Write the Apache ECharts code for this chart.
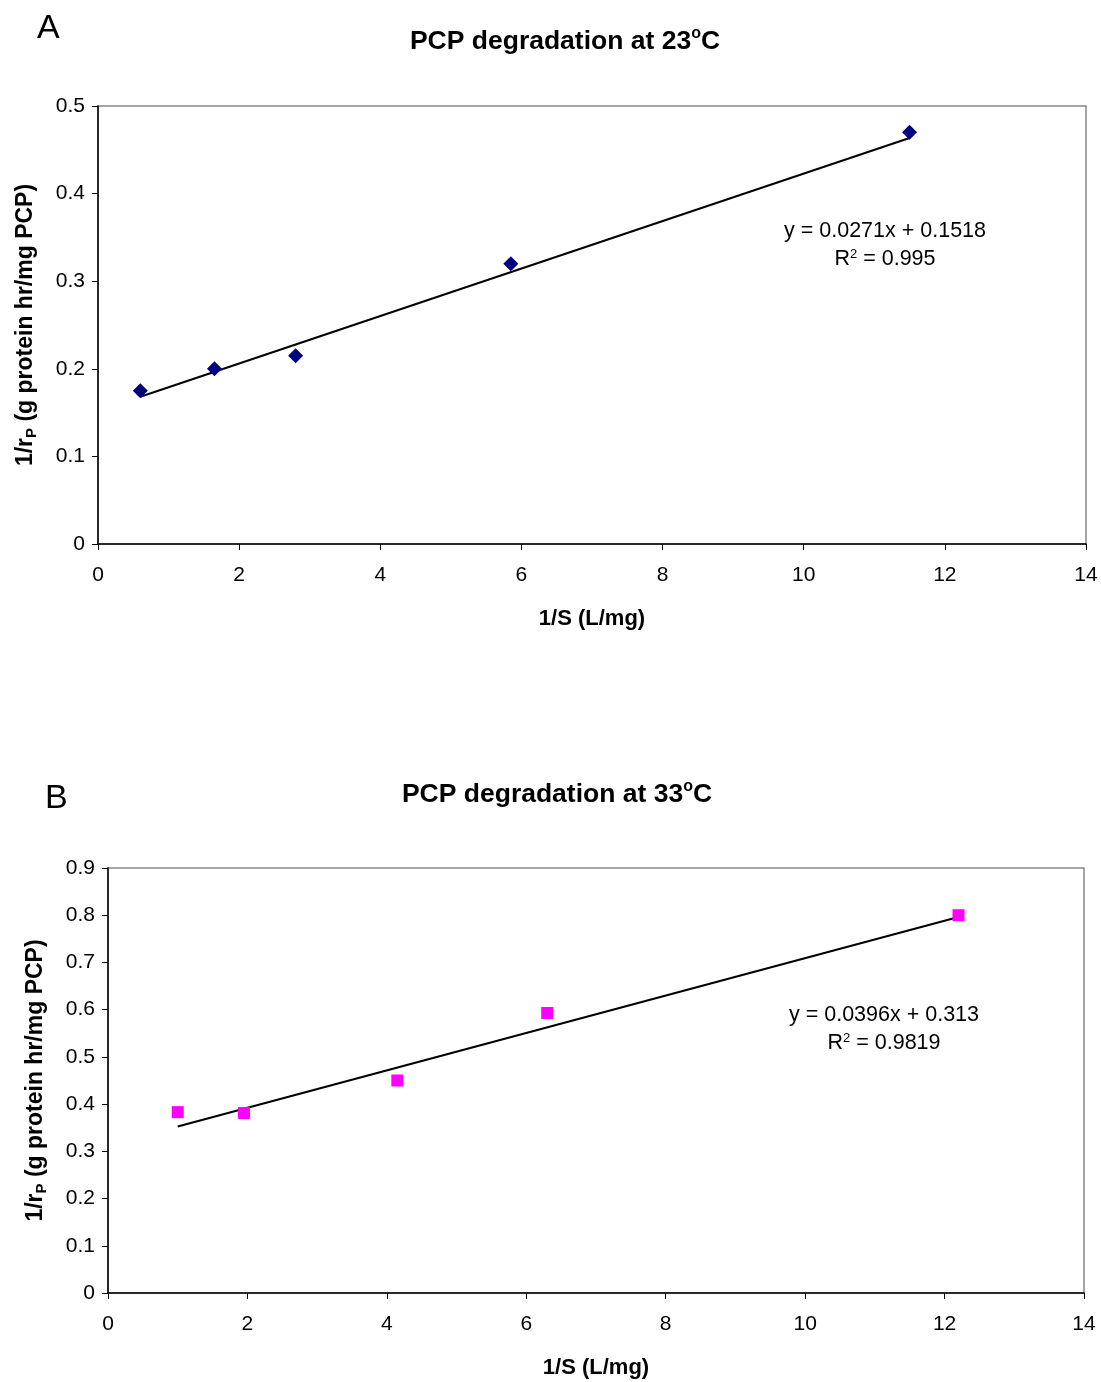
<!DOCTYPE html>
<html>
<head>
<meta charset="utf-8">
<script src="https://cdn.jsdelivr.net/npm/echarts@6/dist/echarts.min.js"></script>
<style>
  html, body { margin: 0; padding: 0; background: #fff; }
  #main { width: 1101px; height: 1382px; }
</style>
</head>
<body>
<div id="main"></div>
<script>
// panel A: 23 C
var xA = [0.6, 1.65, 2.8, 5.85, 11.5];
var yA = [0.175, 0.2, 0.215, 0.32, 0.47];
var fitA = [0.0271, 0.1518];   // slope, intercept
var r2A = '0.995';

// panel B: 33 C
var xB = [1.0, 1.95, 4.15, 6.3, 12.2];
var yB = [0.383, 0.381, 0.45, 0.593, 0.8];
var fitB = [0.0396, 0.313];
var r2B = '0.9819';

var xTicks = [0, 2, 4, 6, 8, 10, 12, 14];

var FONT = 'Liberation Sans, Arial, sans-serif';

function pairs(xs, ys) {
  var out = [];
  for (var i = 0; i < xs.length; i++) out.push([xs[i], ys[i]]);
  return out;
}
function fitLine(xs, fit) {
  var lo = Math.min.apply(null, xs), hi = Math.max.apply(null, xs);
  return [[lo, fit[0] * lo + fit[1]], [hi, fit[0] * hi + fit[1]]];
}

function xAxisOpt(idx) {
  return {
    type: 'value', gridIndex: idx, min: xTicks[0], max: xTicks[xTicks.length - 1], interval: 2,
    name: '1/S (L/mg)', nameLocation: 'middle', nameGap: 64,
    nameTextStyle: { fontFamily: FONT, fontWeight: 'bold', fontSize: 22, color: '#000' },
    axisLine: { lineStyle: { color: '#000', width: 1.5 } },
    axisTick: { inside: false, length: 6, lineStyle: { color: '#000' } },
    axisLabel: { fontFamily: FONT, fontSize: 21, color: '#000', margin: 21 },
    splitLine: { show: false }
  };
}
function yAxisOpt(idx, max, gap) {
  return {
    type: 'value', gridIndex: idx, min: 0, max: max, interval: 0.1,
    name: '{a|1/r}{p|P}{a| (g protein hr/mg PCP)}',
    nameLocation: 'middle', nameGap: gap, nameRotate: 90,
    nameTextStyle: {
      rich: {
        a: { fontFamily: FONT, fontWeight: 'bold', fontSize: 23, color: '#000' },
        p: { fontFamily: FONT, fontWeight: 'bold', fontSize: 15, color: '#000', padding: [11, 0, 0, 0] }
      }
    },
    axisLine: { lineStyle: { color: '#000', width: 1.5 } },
    axisTick: { inside: false, length: 6, lineStyle: { color: '#000' } },
    axisLabel: {
      fontFamily: FONT, fontSize: 21, color: '#000', margin: 13,
      formatter: function (v) { return +v.toFixed(1) + ''; }
    },
    splitLine: { show: false }
  };
}

function titleText(temp) {
  return '{a|PCP degradation at ' + temp + '}{s|o}{a|C}';
}
var titleRich = {
  a: { fontFamily: FONT, fontWeight: 'bold', fontSize: 26.5, color: '#000' },
  s: { fontFamily: FONT, fontWeight: 'bold', fontSize: 16, color: '#000', padding: [0, 0, 15, 0] }
};
var eqRich = {
  a: { fontFamily: FONT, fontSize: 21.5, color: '#000', lineHeight: 28 },
  s: { fontFamily: FONT, fontSize: 13, color: '#000', padding: [0, 0, 10, 0] }
};

var chart = echarts.init(document.getElementById('main'), null, { renderer: 'canvas' });
chart.setOption({
  backgroundColor: '#fff',
  animation: false,
  title: [
    { text: titleText(23), left: 560, top: 21, textAlign: 'center', textStyle: { rich: titleRich } },
    { text: titleText(33), left: 552, top: 774, textAlign: 'center', textStyle: { rich: titleRich } }
  ],
  grid: [
    { left: 98, right: 15, top: 106, height: 438, show: true, borderColor: '#888', borderWidth: 1.5 },
    { left: 108, right: 17, top: 868, height: 425, show: true, borderColor: '#888', borderWidth: 1.5 }
  ],
  xAxis: [xAxisOpt(0), xAxisOpt(1)],
  yAxis: [yAxisOpt(0, 0.5, 59), yAxisOpt(1, 0.9, 59)],
  graphic: [
    { type: 'text', left: 37, top: 12, style: { text: 'A', font: '34px ' + FONT, fill: '#000' } },
    { type: 'text', left: 45, top: 782, style: { text: 'B', font: '34px ' + FONT, fill: '#000' } },
    { type: 'text', x: 885, y: 217, style: {
        text: '{a|y = 0.0271x + 0.1518}\n{a|R}{s|2}{a| = ' + r2A + '}', rich: eqRich,
        align: 'center', textAlign: 'center' } },
    { type: 'text', x: 884, y: 1001, style: {
        text: '{a|y = 0.0396x + 0.313}\n{a|R}{s|2}{a| = ' + r2B + '}', rich: eqRich,
        align: 'center', textAlign: 'center' } }
  ],
  series: [
    {
      type: 'line', xAxisIndex: 0, yAxisIndex: 0, data: fitLine(xA, fitA),
      symbol: 'none', lineStyle: { color: '#000', width: 2 }, z: 2
    },
    {
      type: 'scatter', xAxisIndex: 0, yAxisIndex: 0, data: pairs(xA, yA),
      symbol: 'diamond', symbolSize: [15, 15], itemStyle: { color: '#000080', opacity: 1 }, z: 3
    },
    {
      type: 'line', xAxisIndex: 1, yAxisIndex: 1, data: fitLine(xB, fitB),
      symbol: 'none', lineStyle: { color: '#000', width: 2 }, z: 2
    },
    {
      type: 'scatter', xAxisIndex: 1, yAxisIndex: 1, data: pairs(xB, yB),
      symbol: 'rect', symbolSize: [12, 12], itemStyle: { color: '#FF00FF', opacity: 1 }, z: 3
    }
  ]
});
</script>
</body>
</html>
